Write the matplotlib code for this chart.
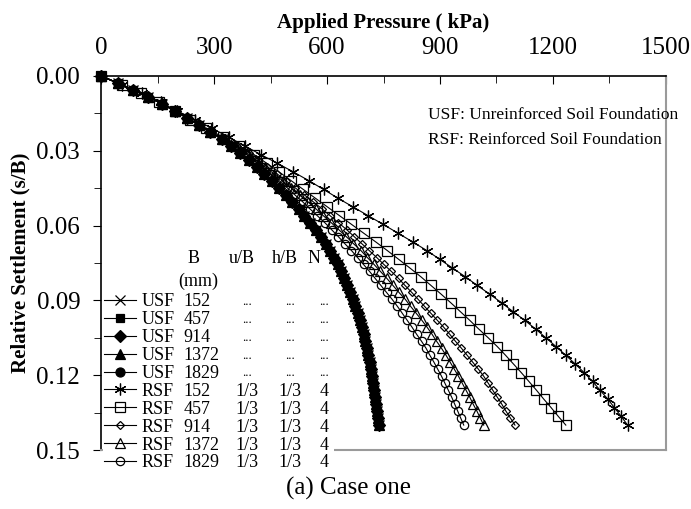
import matplotlib
matplotlib.use('Agg')
import matplotlib.pyplot as plt
from matplotlib.patches import Rectangle
from matplotlib.ticker import MultipleLocator, FormatStrFormatter

plt.rcParams['font.family'] = ['Liberation Serif', 'DejaVu Serif']

# settlement ratio s/B (two point spacings used in the test series)
s_fine = [0.0000, 0.0028, 0.0056, 0.0084, 0.0112, 0.0140, 0.0168, 0.0196, 0.0224, 0.0252,
          0.0280, 0.0308, 0.0336, 0.0364, 0.0392, 0.0420, 0.0448, 0.0476, 0.0504, 0.0532,
          0.0560, 0.0588, 0.0616, 0.0644, 0.0672, 0.0700, 0.0728, 0.0756, 0.0784, 0.0812,
          0.0840, 0.0868, 0.0896, 0.0924, 0.0952, 0.0980, 0.1008, 0.1036, 0.1064, 0.1092,
          0.1120, 0.1148, 0.1176, 0.1204, 0.1232, 0.1260, 0.1288, 0.1316, 0.1344, 0.1372,
          0.1400]
s_coarse = [0.0000, 0.0035, 0.0070, 0.0105, 0.0140, 0.0175, 0.0210, 0.0245, 0.0280, 0.0315,
            0.0350, 0.0385, 0.0420, 0.0455, 0.0490, 0.0525, 0.0560, 0.0595, 0.0630, 0.0665,
            0.0700, 0.0735, 0.0770, 0.0805, 0.0840, 0.0875, 0.0910, 0.0945, 0.0980, 0.1015,
            0.1050, 0.1085, 0.1120, 0.1155, 0.1190, 0.1225, 0.1260, 0.1295, 0.1330, 0.1365,
            0.1400]

# applied pressure (kPa)
p_usf = [0, 44, 86, 126, 162, 196, 229, 260, 290, 320, 344, 369, 392, 413, 434, 454, 473,
         491, 508, 525, 540, 556, 570, 584, 597, 609, 619, 629, 638, 646, 654, 662, 669,
         675, 681, 687, 692, 697, 701, 706, 710, 714, 717, 719, 722, 725, 728, 730, 733,
         735, 737]
p_rsf152 = [0, 56, 109, 158, 202, 249, 295, 339, 381, 424, 468, 511, 552, 591, 629, 669,
            709, 749, 788, 827, 865, 899, 933, 967, 999, 1032, 1064, 1094, 1125, 1154, 1181,
            1208, 1234, 1259, 1283, 1305, 1325, 1345, 1363, 1381, 1398]
p_rsf457 = [0, 55, 106, 154, 196, 237, 279, 324, 367, 406, 440, 473, 505, 537, 569, 601,
            633, 665, 697, 729, 760, 790, 820, 849, 876, 903, 929, 954, 979, 1003, 1028,
            1052, 1074, 1095, 1116, 1136, 1156, 1175, 1195, 1214, 1234]
p_rsf914 = [0, 44, 86, 126, 162, 196, 229, 260, 290, 326, 361, 393, 418, 442, 467, 491, 515,
            539, 563, 586, 608, 630, 652, 672, 692, 712, 732, 751, 771, 790, 807, 825, 842,
            859, 876, 893, 910, 926, 941, 957, 972, 987, 1002, 1016, 1028, 1040, 1052, 1064,
            1075, 1087, 1099]
p_rsf1372 = [0, 44, 86, 126, 162, 196, 229, 260, 290, 324, 357, 387, 411, 435, 459, 482, 504,
             527, 549, 570, 590, 611, 631, 651, 670, 690, 707, 725, 742, 759, 775, 791, 808,
             822, 837, 852, 866, 879, 891, 904, 916, 927, 938, 949, 959, 969, 979, 988, 998,
             1007, 1016]
p_rsf1829 = [0, 44, 86, 126, 162, 196, 229, 260, 290, 322, 353, 382, 405, 428, 451, 473, 494,
             514, 535, 554, 574, 594, 612, 630, 647, 665, 681, 697, 713, 728, 743, 758, 773,
             787, 800, 813, 826, 838, 851, 863, 873, 884, 894, 904, 913, 922, 931, 939, 947,
             955, 963]

# legend table columns
foundation = ['USF', 'USF', 'USF', 'USF', 'USF', 'RSF', 'RSF', 'RSF', 'RSF', 'RSF']
width_mm = ['152', '457', '914', '1372', '1829', '152', '457', '914', '1372', '1829']
u_ratio = ['...', '...', '...', '...', '...', '1/3', '1/3', '1/3', '1/3', '1/3']
h_ratio = ['...', '...', '...', '...', '...', '1/3', '1/3', '1/3', '1/3', '1/3']
n_layers = ['...', '...', '...', '...', '...', '4', '4', '4', '4', '4']

series_s = [s_fine, s_fine, s_fine, s_fine, s_fine,
            s_coarse, s_coarse, s_fine, s_fine, s_fine]
series_p = [p_usf, p_usf, p_usf, p_usf, p_usf,
            p_rsf152, p_rsf457, p_rsf914, p_rsf1372, p_rsf1829]

markers = ['x', 's', 'D', '^', 'o', (6, 2, 0), 's', 'D', '^', 'o']
faces = ['k', 'k', 'k', 'k', 'k', 'k', 'none', 'none', 'none', 'none']
msizes = [6.5, 6, 6, 6.5, 6.5, 8.5, 7, 4.5, 6.5, 6]

fig = plt.figure(figsize=(6.91, 5.09), dpi=100)
ax = fig.add_axes([0.1462, 0.1159, 0.8176, 0.7348])

handles = []
for i in range(10):
    ln, = ax.plot(series_p[i], series_s[i], color='k', lw=0.8, marker=markers[i],
                  ms=msizes[i], mfc=faces[i], mec='k', mew=0.9, clip_on=False)
    handles.append(ln)

ax.set_xlim(0, 1500)
ax.set_ylim(0.15, 0.0)
ax.xaxis.set_major_locator(MultipleLocator(300))
ax.xaxis.set_minor_locator(MultipleLocator(150))
ax.yaxis.set_major_locator(MultipleLocator(0.03))
ax.yaxis.set_minor_locator(MultipleLocator(0.015))
ax.yaxis.set_major_formatter(FormatStrFormatter('%.2f'))
ax.xaxis.tick_top()
ax.xaxis.set_label_position('top')
ax.tick_params(axis='x', which='both', direction='in', labelsize=18, pad=12)
ax.tick_params(axis='x', which='major', length=6)
ax.tick_params(axis='x', which='minor', length=5)
ax.tick_params(axis='y', which='both', direction='out', labelsize=18, pad=9)
ax.tick_params(axis='y', which='major', length=6)
ax.tick_params(axis='y', which='minor', length=5)

for side in ['bottom', 'right']:
    ax.spines[side].set_color('#9a9a9a')
    ax.spines[side].set_linewidth(1.5)
ax.spines['top'].set_linewidth(1.2)
ax.spines['left'].set_linewidth(1.2)

ax.set_xlabel('Applied Pressure ( kPa)', fontsize=15, fontweight='bold', labelpad=7)
ax.set_ylabel('Relative Settlement (s/B)', fontsize=15, fontweight='bold', labelpad=4)

ax.text(0.579, 0.895, 'USF: Unreinforced Soil Foundation', transform=ax.transAxes,
        fontsize=12.5, va='center')
ax.text(0.579, 0.828, 'RSF: Reinforced Soil Foundation', transform=ax.transAxes,
        fontsize=12.5, va='center')

# white patch hiding the frame behind the legend table
ax.add_patch(Rectangle((0.004, -0.08), 0.408, 0.51, transform=ax.transAxes,
                       facecolor='white', edgecolor='none', zorder=4, clip_on=False))

leg = ax.legend(handles, foundation, loc='upper left', bbox_to_anchor=(0.005, 0.419),
                fontsize=13, frameon=False, borderpad=0, borderaxespad=0,
                handlelength=1.8, handletextpad=0.3, labelspacing=0.05, numpoints=1)
leg.set_zorder(5)

texts = leg.get_texts()
for i, t in enumerate(texts):
    ax.annotate(width_mm[i], xy=(0, 0.5), xycoords=t, xytext=(30, 0),
                textcoords='offset points', va='center', ha='left', fontsize=13, zorder=6)
    for col, dx in [(u_ratio, 76), (h_ratio, 107), (n_layers, 131)]:
        small = col[i] == '...'
        ax.annotate(col[i], xy=(0, 0.5), xycoords=t, xytext=(dx, 0),
                    textcoords='offset points', va='center', ha='center',
                    fontsize=9 if small else 13, zorder=6)

headers = [('B', 37, 31), ('u/B', 72, 31), ('h/B', 103, 31), ('N', 124, 31), ('(mm)', 41, 14.5)]
for txt, dx, dy in headers:
    ax.annotate(txt, xy=(0, 0.5), xycoords=texts[0], xytext=(dx, dy),
                textcoords='offset points', va='center', ha='center', fontsize=13, zorder=6)

fig.text(0.505, 0.04, '(a) Case one', ha='center', va='center', fontsize=18)

fig.savefig('out.png', dpi=100)
